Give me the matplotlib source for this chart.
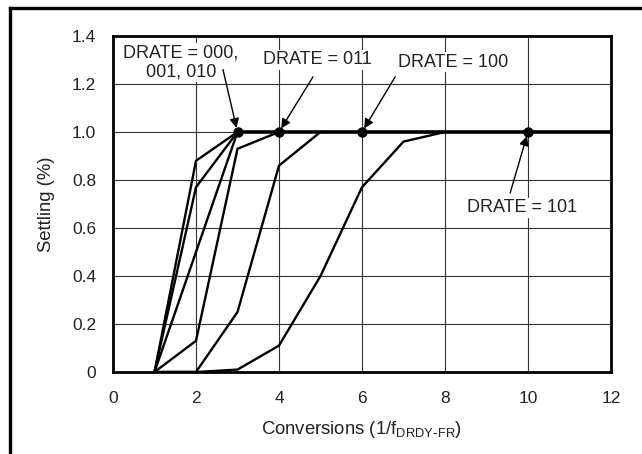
import matplotlib
matplotlib.use("Agg")
import matplotlib.pyplot as plt
from matplotlib.lines import Line2D

plt.rcParams['font.family'] = ['Liberation Sans', 'DejaVu Sans']

# settling curves, one per DRATE setting (conversions vs settling)
c1_x = [1, 2, 3]
c1_y = [0, 0.88, 1.0]
c2_x = [1, 2, 3]
c2_y = [0, 0.77, 1.0]
c3_x = [1, 2, 3]
c3_y = [0, 0.50, 1.0]
c4_x = [1, 2, 3, 4]
c4_y = [0, 0.13, 0.93, 1.0]
c5_x = [1, 2, 3, 4, 5]
c5_y = [0, 0, 0.25, 0.86, 1.0]
c6_x = [1, 2, 3, 4, 5, 6, 7, 8]
c6_y = [0, 0, 0.01, 0.11, 0.40, 0.77, 0.96, 1.0]

settled_x = [3, 12]
settled_y = [1.0, 1.0]
dot_x = [3, 4, 6, 10]
dot_y = [1.0, 1.0, 1.0, 1.0]

xticks = [0, 2, 4, 6, 8, 10, 12]
yticks = [0, 0.2, 0.4, 0.6, 0.8, 1.0, 1.2, 1.4]
ytick_labels = ["0", "0.2", "0.4", "0.6", "0.8", "1.0", "1.2", "1.4"]

txt = '#222222'

fig = plt.figure(figsize=(6.42, 4.54), dpi=100)
ax = fig.add_axes([113 / 642, 1 - 372 / 454, 498 / 642, 336 / 454])

# outer frame (top and left only, rest is cut off)
fig.add_artist(Line2D([10 / 642, 1.0], [1 - 8 / 454, 1 - 8 / 454], color='black', lw=2.4,
                      transform=fig.transFigure, solid_capstyle='projecting'))
fig.add_artist(Line2D([10 / 642, 10 / 642], [1 - 8 / 454, 0], color='black', lw=2.4,
                      transform=fig.transFigure, solid_capstyle='projecting'))

for cx, cy in [(c1_x, c1_y), (c2_x, c2_y), (c3_x, c3_y), (c4_x, c4_y), (c5_x, c5_y), (c6_x, c6_y)]:
    ax.plot(cx, cy, color='black', lw=1.7, solid_joinstyle='miter', zorder=3)

ax.plot(settled_x, settled_y, color='black', lw=2.6, zorder=4, clip_on=False)
ax.plot(dot_x, dot_y, 'o', color='black', ms=6.5, zorder=5)

ax.set_xlim(0, 12)
ax.set_ylim(0, 1.4)
ax.set_xticks(xticks)
ax.set_yticks(yticks)
ax.set_yticklabels(ytick_labels)
ax.tick_params(length=0, labelsize=12.5, colors=txt)
ax.tick_params(axis='x', pad=14)
ax.tick_params(axis='y', pad=12)
ax.grid(True, color='#333333', lw=0.8)
ax.set_axisbelow(True)
for s in ax.spines.values():
    s.set_linewidth(2.0)
    s.set_color('black')

ax.set_xlabel('Conversions (1/f$_{\\mathregular{DRDY\\text{-}FR}}$)', fontsize=13.3, color=txt, labelpad=9)
ax.set_ylabel('Settling (%)', fontsize=13.3, color=txt, labelpad=12)

box = dict(facecolor='white', edgecolor='none', pad=1)
ax.text(1.64, 1.29, 'DRATE = 000,\n001, 010', ha='center', va='center', fontsize=13,
        color=txt, bbox=box, linespacing=1.2, zorder=6)
ax.text(4.92, 1.30, 'DRATE = 011', ha='center', va='center', fontsize=13, color=txt, bbox=box, zorder=6)
ax.text(8.19, 1.29, 'DRATE = 100', ha='center', va='center', fontsize=13, color=txt, bbox=box, zorder=6)
ax.text(9.86, 0.685, 'DRATE = 101', ha='center', va='center', fontsize=13, color=txt, bbox=box, zorder=6)

arrow = dict(arrowstyle='-|>', color='black', lw=1.0, mutation_scale=14, shrinkA=0, shrinkB=3)
ax.annotate('', xy=(3, 1.0), xytext=(2.65, 1.26), arrowprops=arrow, zorder=6)
ax.annotate('', xy=(4, 1.0), xytext=(4.82, 1.23), arrowprops=arrow, zorder=6)
ax.annotate('', xy=(6, 1.0), xytext=(6.80, 1.23), arrowprops=arrow, zorder=6)
ax.annotate('', xy=(10, 1.0), xytext=(9.57, 0.746), arrowprops=arrow, zorder=6)

fig.savefig('out.png', dpi=100)
